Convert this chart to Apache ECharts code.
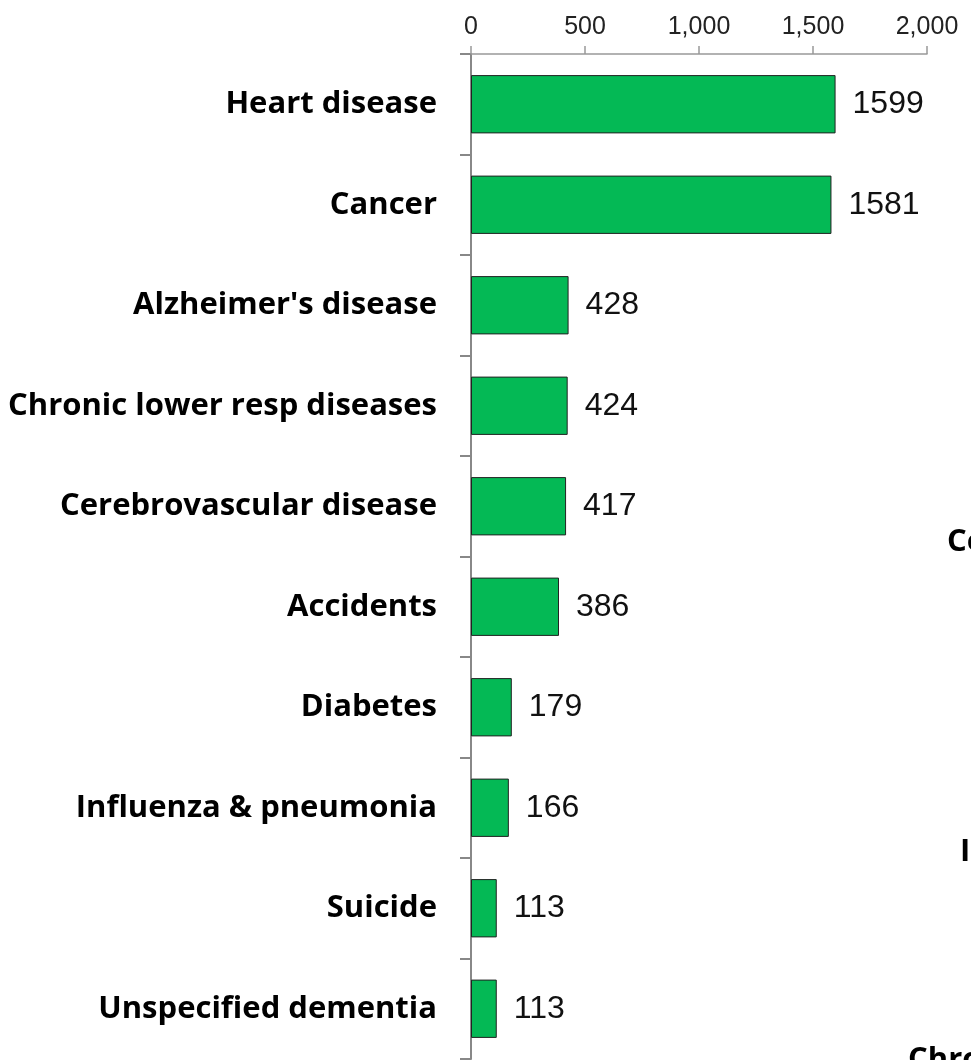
<!DOCTYPE html>
<html lang="en">
<head>
<meta charset="UTF-8" />
<title>Deaths by cause</title>
<script src="https://cdn.jsdelivr.net/npm/echarts@6/dist/echarts.min.js"></script>
<style type="text/css">
html,body{margin:0;padding:0;background:#fff;}
#main{width:971px;height:1060px;}
</style>
</head>
<body>
<div id="main"></div>
<script type="text/javascript">
// data
var causes = ['Heart disease','Cancer',"Alzheimer's disease",'Chronic lower resp diseases','Cerebrovascular disease','Accidents','Diabetes','Influenza & pneumonia','Suicide','Unspecified dementia'];
var deaths = [1599,1581,428,424,417,386,179,166,113,113];
var xTicks = [0,500,1000,1500,2000];
// cut-off labels of a neighbouring chart at the right edge
var edgeLabels = ['Co','In','Chro'];

var myChart = echarts.init(document.getElementById('main'));
myChart.setOption({
    animation: false,
    grid: {left: 471, top: 54, width: 456, height: 1005},
    xAxis: {
        type: 'value',
        position: 'top',
        min: xTicks[0],
        max: xTicks[xTicks.length-1],
        interval: xTicks[1]-xTicks[0],
        axisLine: {show: true, lineStyle: {color: '#999', width: 1.5}},
        axisTick: {show: true, length: 8, lineStyle: {color: '#999', width: 1.5}},
        splitLine: {show: false},
        axisLabel: {
            margin: 14,
            color: '#222',
            fontFamily: 'Liberation Sans',
            fontSize: 25,
            formatter: function(v){ return v.toLocaleString('en-US'); }
        }
    },
    yAxis: {
        type: 'category',
        inverse: true,
        data: causes,
        axisLine: {show: true, lineStyle: {color: '#888', width: 2}},
        axisTick: {show: true, length: 11, lineStyle: {color: '#888', width: 2}},
        axisLabel: {
            margin: 34,
            color: '#000',
            fontFamily: 'Open Sans',
            fontWeight: 'bold',
            fontSize: 31
        }
    },
    series: [{
        type: 'bar',
        data: deaths,
        barCategoryGap: '42%',
        itemStyle: {color: '#04B955', borderColor: '#222', borderWidth: 1},
        label: {
            show: true,
            position: 'right',
            distance: 17,
            color: '#111',
            fontFamily: 'Liberation Sans',
            fontSize: 32
        }
    }],
    graphic: [
        {type: 'text', left: 947, top: 527, style: {text: edgeLabels[0], font: 'bold 31px "Open Sans"', fill: '#000'}},
        {type: 'text', left: 960, top: 837, style: {text: edgeLabels[1], font: 'bold 31px "Open Sans"', fill: '#000'}},
        {type: 'text', left: 908, top: 1045, style: {text: edgeLabels[2], font: 'bold 31px "Open Sans"', fill: '#000'}}
    ]
});
</script>
</body>
</html>
